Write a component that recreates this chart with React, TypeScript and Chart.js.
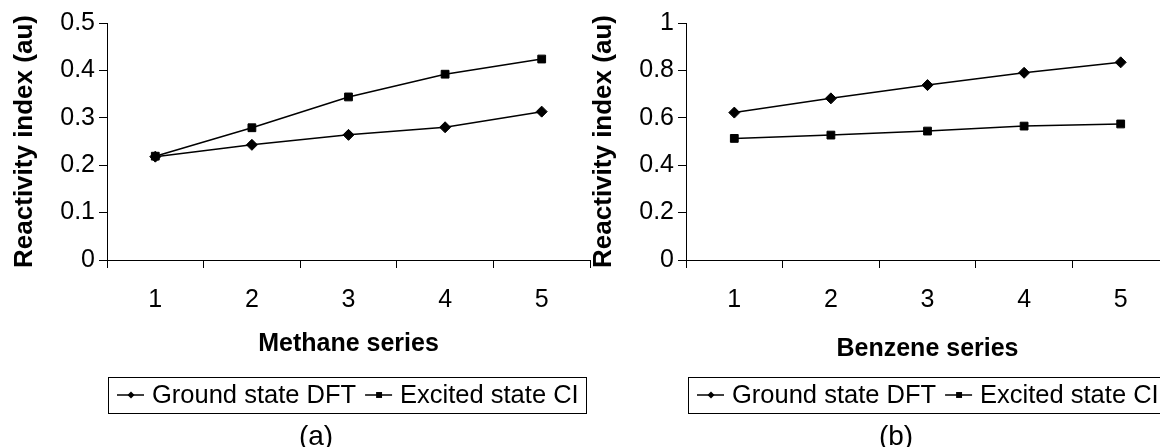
import React, { useEffect, useRef } from 'react';
import { Chart, registerables } from 'chart.js';

Chart.register(...registerables);

const FONT = "'Liberation Sans', Arial, Helvetica, sans-serif";

// ---- data ----
const categories = ['1', '2', '3', '4', '5'];
const seriesNames = ['Ground state DFT', 'Excited state CI'];
const methaneGround = [0.218, 0.243, 0.264, 0.28, 0.313];
const methaneExcited = [0.219, 0.279, 0.344, 0.392, 0.424];
const benzeneGround = [0.622, 0.682, 0.738, 0.79, 0.834];
const benzeneExcited = [0.513, 0.527, 0.544, 0.565, 0.574];
const methaneTicks = [0, 0.1, 0.2, 0.3, 0.4, 0.5];
const benzeneTicks = [0, 0.2, 0.4, 0.6, 0.8, 1];
const yTitle = 'Reactivity index (au)';
const xTitles = ['Methane series', 'Benzene series'];
const captions = ['(a)', '(b)'];

function drawMarker(ctx: CanvasRenderingContext2D, style: string, x: number, y: number, r: number) {
  ctx.beginPath();
  if (style === 'rectRot') {
    ctx.moveTo(x, y - r);
    ctx.lineTo(x + r, y);
    ctx.lineTo(x, y + r);
    ctx.lineTo(x - r, y);
    ctx.closePath();
  } else {
    const s = r * Math.SQRT1_2;
    ctx.rect(x - s, y - s, 2 * s, 2 * s);
  }
  ctx.fill();
}

const legendBoxPlugin = {
  id: 'legendBox',
  afterDraw(chart: any, _args: any, opts: any) {
    const ctx: CanvasRenderingContext2D = chart.ctx;
    const { left, top, height, right, caption, captionX, captionY } = opts;
    ctx.save();
    ctx.fillStyle = '#000';
    ctx.strokeStyle = '#000';
    ctx.font = `25.5px ${FONT}`;
    ctx.textBaseline = 'middle';
    ctx.textAlign = 'left';
    const cy = top + height / 2;
    let x = left + 9;
    chart.data.datasets.forEach((ds: any) => {
      ctx.lineWidth = 1.5;
      ctx.beginPath();
      ctx.moveTo(x, cy);
      ctx.lineTo(x + 27, cy);
      ctx.stroke();
      drawMarker(ctx, ds.pointStyle, x + 14, cy, ds.pointStyle === 'rectRot' ? 3.5 : 4.2);
      x += 35;
      ctx.fillText(ds.label, x, cy + 1);
      x += ctx.measureText(ds.label).width + 9;
    });
    ctx.lineWidth = 1;
    ctx.strokeRect(left + 0.5, top + 0.5, right - left, height);
    ctx.font = `28px ${FONT}`;
    ctx.textAlign = 'center';
    ctx.fillText(caption, captionX, captionY);
    ctx.restore();
  },
};

type PanelProps = {
  ground: number[];
  excited: number[];
  ticks: number[];
  xTitle: string;
  caption: string;
  xTitlePad: number;
  left: number;
  captionX: number;
  legendLeft: number;
  legendRight: number;
};

function Panel(p: PanelProps) {
  const ref = useRef<HTMLCanvasElement | null>(null);
  useEffect(() => {
    if (!ref.current) return;
    const axisGrid = {
      drawOnChartArea: false,
      drawTicks: true,
      tickLength: 8,
      color: '#000',
      lineWidth: 1,
    };
    const chart = new Chart(ref.current, {
      type: 'line',
      data: {
        labels: categories,
        datasets: [
          {
            label: seriesNames[0],
            data: p.ground,
            borderColor: '#000',
            backgroundColor: '#000',
            borderWidth: 1.5,
            pointStyle: 'rectRot',
            pointRadius: 5.5,
            pointBorderWidth: 1,
            pointBackgroundColor: '#000',
            pointBorderColor: '#000',
            tension: 0,
          },
          {
            label: seriesNames[1],
            data: p.excited,
            borderColor: '#000',
            backgroundColor: '#000',
            borderWidth: 1.5,
            pointStyle: 'rect',
            pointRadius: 5.5,
            pointBorderWidth: 1,
            pointBackgroundColor: '#000',
            pointBorderColor: '#000',
            tension: 0,
          },
        ],
      },
      options: {
        responsive: false,
        animation: false,
        devicePixelRatio: 1,
        layout: { padding: { left: 0, top: 23, right: 10, bottom: 83 } },
        plugins: {
          legend: { display: false },
          tooltip: { enabled: false },
          legendBox: {
            left: p.legendLeft,
            right: p.legendRight,
            top: 377,
            height: 36,
            caption: p.caption,
            captionX: p.captionX,
            captionY: 437,
          },
        } as any,
        scales: {
          x: {
            type: 'category',
            offset: true,
            grid: { ...axisGrid, offset: true },
            border: { display: true, color: '#000', width: 1 },
            ticks: {
              color: '#000',
              font: { family: FONT, size: 25 },
              padding: 17,
              maxRotation: 0,
              autoSkip: false,
            },
            title: {
              display: true,
              text: p.xTitle,
              color: '#000',
              font: { family: FONT, size: 25, weight: 'bold' },
              padding: { top: 0, bottom: p.xTitlePad },
            },
            afterFit: (s: any) => {
              s.height = 104;
            },
          },
          y: {
            min: p.ticks[0],
            max: p.ticks[p.ticks.length - 1],
            grid: axisGrid,
            border: { display: true, color: '#000', width: 1 },
            afterBuildTicks: (s: any) => {
              s.ticks = p.ticks.map((v) => ({ value: v }));
            },
            ticks: {
              color: '#000',
              font: { family: FONT, size: 25 },
              padding: 4,
              callback: (v: any) => String(v),
            },
            title: {
              display: true,
              text: yTitle,
              color: '#000',
              font: { family: FONT, size: 26, weight: 'bold' },
              padding: { top: 9, bottom: 0 },
            },
            afterFit: (s: any) => {
              s.width = 107;
            },
          },
        },
      } as any,
      plugins: [legendBoxPlugin as any],
    });
    return () => chart.destroy();
  }, []);
  return (
    <canvas
      ref={ref}
      width={600}
      height={447}
      style={{ position: 'absolute', left: p.left, top: 0, width: 600, height: 447 }}
    />
  );
}

export default function App() {
  return (
    <div
      style={{
        position: 'fixed',
        left: 0,
        top: 0,
        width: 1160,
        height: 447,
        overflow: 'hidden',
        background: '#fff',
      }}
    >
      <Panel
        ground={methaneGround}
        excited={methaneExcited}
        ticks={methaneTicks}
        xTitle={xTitles[0]}
        caption={captions[0]}
        xTitlePad={5}
        left={0}
        captionX={316}
        legendLeft={108}
        legendRight={586}
      />
      <Panel
        ground={benzeneGround}
        excited={benzeneExcited}
        ticks={benzeneTicks}
        xTitle={xTitles[1]}
        caption={captions[1]}
        xTitlePad={0}
        left={579}
        captionX={317}
        legendLeft={109}
        legendRight={590}
      />
    </div>
  );
}
